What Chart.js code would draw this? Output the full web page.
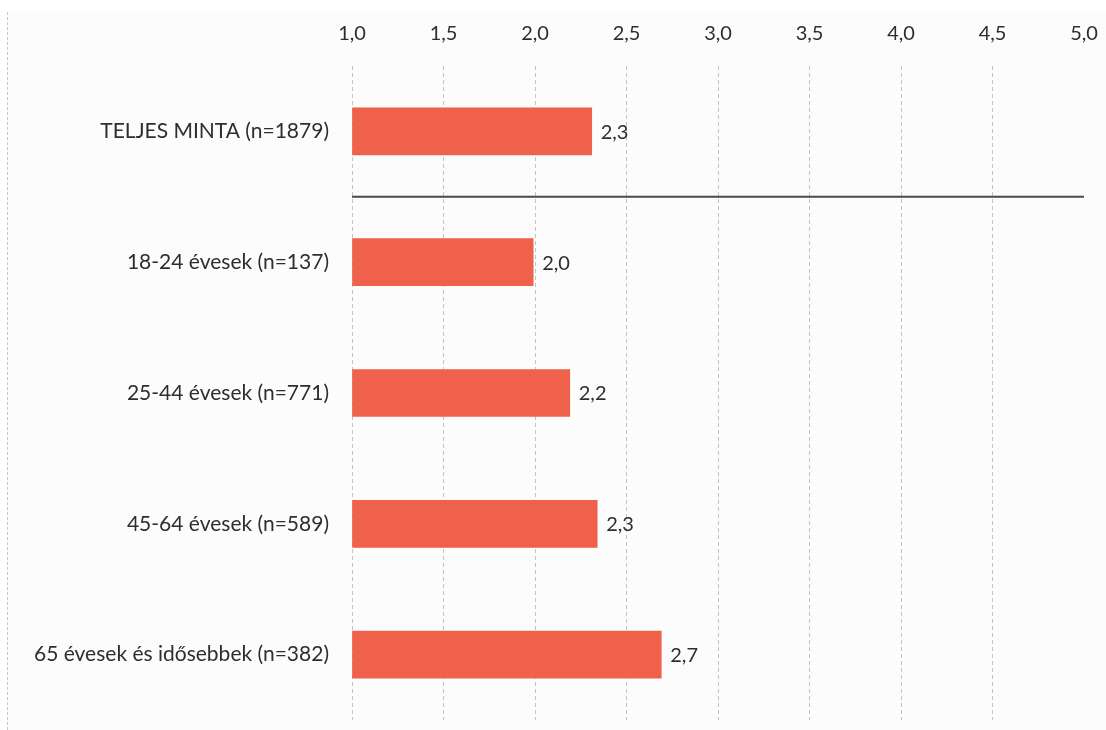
<!DOCTYPE html>
<html>
<head>
<meta charset="utf-8">
<script src="https://cdn.jsdelivr.net/npm/chart.js@4/dist/chart.umd.min.js"></script>
<style>
  body { margin: 0; background: #ffffff; }
  #wrap { position: relative; width: 1106px; height: 730px; }
  #frame { position: absolute; left: 7px; top: 12px; right: 0; bottom: 0;
           background: #fcfcfc; border-left: 1px dashed #c8c8c8; }
  canvas { position: absolute; left: 0; top: 0; }
</style>
</head>
<body>
<div id="wrap">
  <div id="frame"></div>
  <canvas id="chart" width="1106" height="730"></canvas>
</div>
<script>

const groups = [
  "TELJES MINTA (n=1879)",
  "18-24 évesek (n=137)",
  "25-44 évesek (n=771)",
  "45-64 évesek (n=589)",
  "65 évesek és idősebbek (n=382)"
];

const scores = [2.31, 1.99, 2.19, 2.34, 2.69];

const axisMin = 1;
const axisMax = 5;
const axisStep = 0.5;

const fmt = v => Number(v).toFixed(1).replace(".", ",");


/* value labels next to the bars */
const valueLabels = {
  id: "valueLabels",
  afterDatasetsDraw(chart) {
    const ctx = chart.ctx;
    const meta = chart.getDatasetMeta(0);
    ctx.save();
    ctx.font = "20px Lato";
    ctx.fillStyle = "#2e2e2e";
    ctx.textAlign = "left";
    ctx.textBaseline = "middle";
    meta.data.forEach((bar, i) => {
      ctx.fillText(fmt(scores[i]), bar.x + 9, bar.y + 1);
    });
    ctx.restore();
  }
};


/* line under the total sample */
const separator = {
  id: "separator",
  afterDatasetsDraw(chart) {
    const y = chart.scales.y;
    const area = chart.chartArea;
    const yy = (y.getPixelForTick(0) + y.getPixelForTick(1)) / 2;
    const ctx = chart.ctx;
    ctx.save();
    ctx.strokeStyle = "#4a4a4a";
    ctx.lineWidth = 2;
    ctx.beginPath();
    ctx.moveTo(area.left, yy);
    ctx.lineTo(area.right, yy);
    ctx.stroke();
    ctx.restore();
  }
};


new Chart(document.getElementById("chart"), {

  type: "bar",

  data: {
    labels: groups,
    datasets: [{
      data: scores,
      base: axisMin,
      backgroundColor: "#ef614a",
      barThickness: 47
    }]
  },

  options: {
    indexAxis: "y",
    responsive: false,
    animation: false,
    layout: {
      padding: { left: 0, right: 22, top: 0, bottom: 10 }
    },
    plugins: {
      legend: { display: false },
      tooltip: { enabled: false }
    },
    scales: {
      x: {
        position: "top",
        min: axisMin,
        max: axisMax,
        afterFit(scale) {
          scale.height = 66;
          scale.paddingLeft = 0;
          scale.paddingRight = 0;
        },
        ticks: {
          stepSize: axisStep,
          padding: 20,
          color: "#2e2e2e",
          font: { family: "Lato", size: 20 },
          callback: v => fmt(v)
        },
        grid: {
          drawTicks: false,
          color: c => (c.tick && c.tick.value >= axisMax) ? "rgba(0,0,0,0)" : "#c4c4c4",
          lineWidth: 1
        },
        border: { display: false, dash: [4, 3] }
      },
      y: {
        afterFit(scale) {
          scale.width = 352;
          scale.paddingTop = 0;
          scale.paddingBottom = 0;
        },
        ticks: {
          padding: 15,
          color: "#2e2e2e",
          font: { family: "Lato", size: 21 }
        },
        grid: { display: false },
        border: { display: false }
      }
    }
  },

  plugins: [valueLabels, separator]

});

</script>
</body>
</html>
